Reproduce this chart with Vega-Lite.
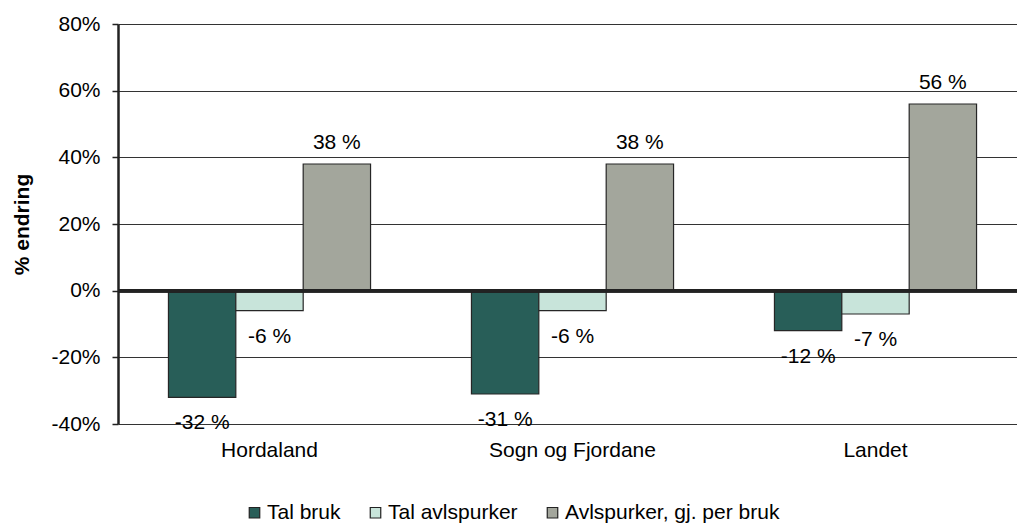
{
  "$schema": "https://vega.github.io/schema/vega-lite/v6.json",
  "width": 909,
  "height": 400,
  "autosize": {"type": "none"},
  "padding": {"left": 118, "top": 24, "right": -10, "bottom": 107},
  "background": "white",
  "config": {
    "view": {"stroke": null},
    "font": "Liberation Sans",
    "axis": {"labelFont": "Liberation Sans", "titleFont": "Liberation Sans", "labelColor": "#000", "titleColor": "#000"}
  },
  "data": {
    "values": [
      {"region": "Hordaland", "serie": "Tal bruk", "value": -32, "label": "-32 %"},
      {"region": "Hordaland", "serie": "Tal avlspurker", "value": -6, "label": "-6 %"},
      {"region": "Hordaland", "serie": "Avlspurker, gj. per bruk", "value": 38, "label": "38 %"},
      {"region": "Sogn og Fjordane", "serie": "Tal bruk", "value": -31, "label": "-31 %"},
      {"region": "Sogn og Fjordane", "serie": "Tal avlspurker", "value": -6, "label": "-6 %"},
      {"region": "Sogn og Fjordane", "serie": "Avlspurker, gj. per bruk", "value": 38, "label": "38 %"},
      {"region": "Landet", "serie": "Tal bruk", "value": -12, "label": "-12 %"},
      {"region": "Landet", "serie": "Tal avlspurker", "value": -7, "label": "-7 %"},
      {"region": "Landet", "serie": "Avlspurker, gj. per bruk", "value": 56, "label": "56 %"}
    ]
  },
  "layer": [
    {
      "mark": {"type": "bar", "stroke": "#262626", "strokeWidth": 1.2},
      "encoding": {
        "x": {
          "field": "region", "type": "nominal", "sort": null,
          "scale": {"paddingInner": 0.333, "paddingOuter": 0.1665},
          "axis": {"title": null, "domain": false, "ticks": false, "labelFontSize": 21, "labelPadding": 15, "labelAngle": 0}
        },
        "xOffset": {"field": "serie", "type": "nominal", "sort": ["Tal bruk", "Tal avlspurker", "Avlspurker, gj. per bruk"]},
        "y": {
          "field": "value", "type": "quantitative",
          "scale": {"domain": [-40, 80], "nice": false, "zero": false},
          "axis": {
            "title": "% endring", "titleFontSize": 21, "titleFontWeight": "bold", "titlePadding": 18,
            "values": [-40, -20, 0, 20, 40, 60, 80],
            "labelExpr": "datum.value + '%'", "labelFontSize": 21, "labelPadding": 12,
            "domainColor": "#222", "domainWidth": 2.5,
            "tickColor": "#222", "tickSize": 6, "tickWidth": 1.5,
            "grid": true, "gridColor": "#333", "gridWidth": 1.2
          }
        },
        "color": {
          "field": "serie", "type": "nominal",
          "scale": {
            "domain": ["Tal bruk", "Tal avlspurker", "Avlspurker, gj. per bruk"],
            "range": ["#285e58", "#c8e4da", "#a3a69c"]
          },
          "legend": {
            "title": null, "orient": "none", "direction": "horizontal",
            "legendX": 126, "legendY": 478,
            "labelFontSize": 21, "labelLimit": 0, "symbolType": "square", "symbolSize": 110,
            "symbolStrokeColor": "#222", "symbolStrokeWidth": 1.2,
            "columnPadding": 24, "labelOffset": 2
          }
        }
      }
    },
    {
      "mark": {"type": "rule", "color": "#222", "strokeWidth": 3},
      "encoding": {
        "y": {"datum": 0, "type": "quantitative"}
      }
    },
    {
      "transform": [{"filter": "datum.value >= 0"}],
      "mark": {"type": "text", "fontSize": 21, "dy": -21, "baseline": "middle", "color": "#000"},
      "encoding": {
        "x": {"field": "region", "type": "nominal", "sort": null},
        "xOffset": {"field": "serie", "type": "nominal", "sort": ["Tal bruk", "Tal avlspurker", "Avlspurker, gj. per bruk"]},
        "y": {"field": "value", "type": "quantitative"},
        "text": {"field": "label"}
      }
    },
    {
      "transform": [{"filter": "datum.value < 0"}],
      "mark": {"type": "text", "fontSize": 21, "dy": 26, "baseline": "middle", "color": "#000"},
      "encoding": {
        "x": {"field": "region", "type": "nominal", "sort": null},
        "xOffset": {"field": "serie", "type": "nominal", "sort": ["Tal bruk", "Tal avlspurker", "Avlspurker, gj. per bruk"]},
        "y": {"field": "value", "type": "quantitative"},
        "text": {"field": "label"}
      }
    }
  ]
}
